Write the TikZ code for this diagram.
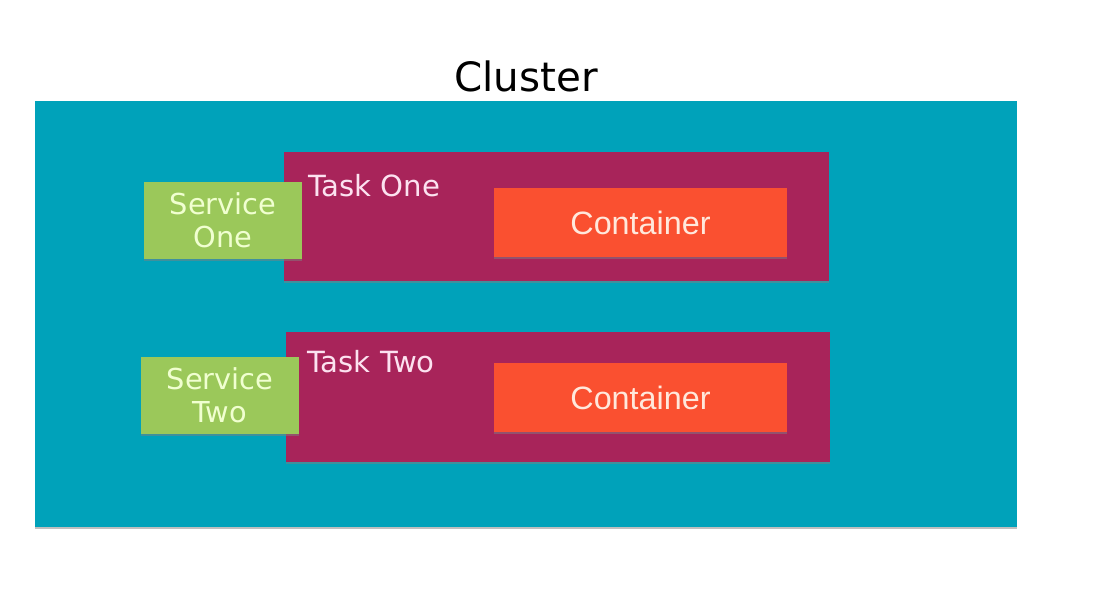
\documentclass[tikz,border=0pt]{standalone}
\usepackage{fontspec}
\setmainfont{DejaVu Sans}
\newfontfamily\arialfont{Liberation Sans}
\usetikzlibrary{shadows}
\definecolor{clusterblue}{RGB}{0,162,186}
\definecolor{taskred}{RGB}{168,36,90}
\definecolor{servicegreen}{RGB}{155,200,90}
\definecolor{containerorange}{RGB}{250,80,48}
\definecolor{servicetext}{RGB}{240,255,208}
\definecolor{tasktext}{RGB}{252,226,240}
\definecolor{containertext}{RGB}{255,232,220}
\begin{document}
\begin{tikzpicture}[x=0.02cm,y=-0.02cm,
    box/.style={rectangle,inner sep=0pt,outer sep=0pt,
      drop shadow={shadow xshift=0pt,shadow yshift=-0.04cm,opacity=0.5}},
    clusterbox/.style={box,fill=clusterblue,minimum width=19.64cm,minimum height=8.52cm},
    taskbox/.style={box,fill=taskred,minimum width=10.9cm,minimum height=2.6cm},
    servicebox/.style={box,fill=servicegreen,minimum width=3.16cm,minimum height=1.54cm,
      text=servicetext,align=center,font=\fontsize{16.4}{19}\selectfont},
    containerbox/.style={box,fill=containerorange,minimum width=5.86cm,minimum height=1.38cm,
      text=containertext,font=\arialfont\fontsize{18.4}{20}\selectfont},
    tasklabel/.style={anchor=base west,inner sep=0pt,text=tasktext,font=\fontsize{16.6}{19}\selectfont}]
  \useasboundingbox (0,0) rectangle (1109,606);
  % cluster
  \node[anchor=base,font=\fontsize{23}{26}\selectfont] (title) at (526,91) {Cluster};
  \node[clusterbox] (cluster) at (526,314) {};
  % first task
  \node[taskbox] (taskone) at (556.5,216.5) {};
  \node[tasklabel] (taskonelabel) at ([xshift=0.48cm,yshift=-0.89cm]taskone.north west) {Task One};
  \node[containerbox] (containerone) at (640.5,222.5) {Container};
  \node[servicebox] (serviceone) at (223,220.5) {Service\\One};
  % second task
  \node[taskbox] (tasktwo) at (558,397) {};
  \node[tasklabel] (tasktwolabel) at ([xshift=0.44cm,yshift=-0.80cm]tasktwo.north west) {Task Two};
  \node[containerbox] (containertwo) at (640.5,397.5) {Container};
  \node[servicebox] (servicetwo) at (220,395.5) {Service\\Two};
\end{tikzpicture}
\end{document}
